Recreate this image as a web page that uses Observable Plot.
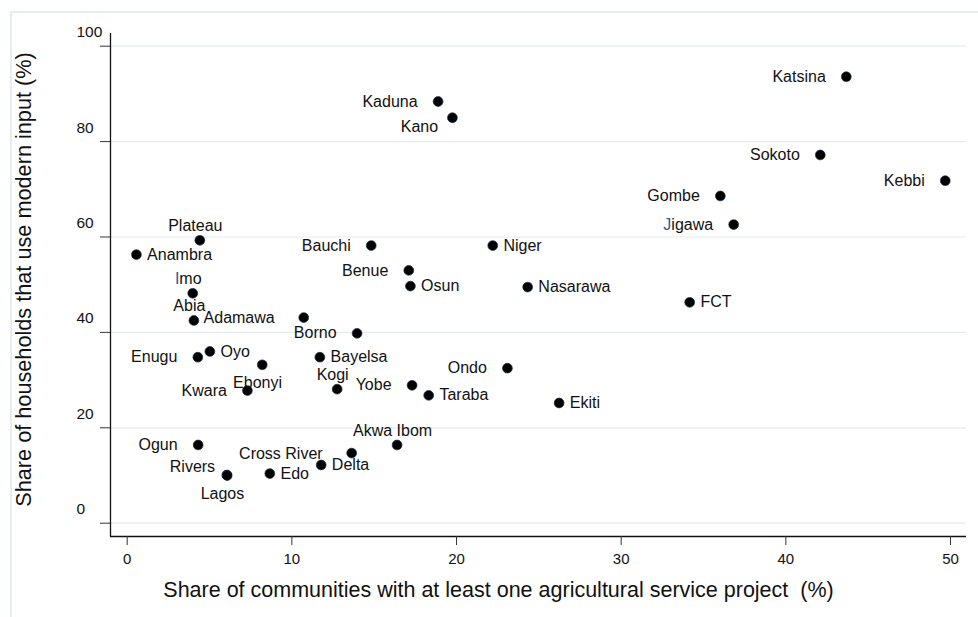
<!DOCTYPE html>
<html>
<head>
<meta charset="utf-8">
<script src="https://cdn.jsdelivr.net/npm/d3@7"></script>
<script src="https://cdn.jsdelivr.net/npm/@observablehq/plot@0.6"></script>
<style>
  html, body { margin: 0; padding: 0; background: #fff; }
  #wrap { position: relative; width: 978px; height: 617px; overflow: hidden; }
  #border { position: absolute; left: 10px; top: 11px; width: 990px; height: 640px;
            border-left: 2px solid #e4edf1; border-top: 2px solid #e4edf1; pointer-events: none; }
</style>
</head>
<body>
<div id="wrap"><div id="border"></div></div>
<script>
// ---- data ----
const states = ["Katsina","Kaduna","Kano","Sokoto","Kebbi","Gombe","Jigawa","Plateau","Anambra","Bauchi",
  "Niger","Benue","Osun","Nasarawa","FCT","Imo","Abia","Adamawa","Borno","Enugu",
  "Oyo","Ebonyi","Bayelsa","Kwara","Kogi","Yobe","Taraba","Ondo","Ekiti","Akwa Ibom",
  "Ogun","Cross River","Delta","Rivers","Lagos","Edo"];
// Share of communities with at least one agricultural service project (%)
const serviceShare = [43.67,18.88,19.75,42.09,49.68,36.02,36.83,4.41,0.56,14.82,
  22.20,17.10,17.20,24.32,34.16,3.98,4.05,10.72,13.96,4.29,
  5.02,8.20,11.70,7.30,12.75,17.30,18.31,23.09,26.23,16.39,
  4.31,13.63,11.78,6.05,6.07,8.66];
// Share of households that use modern input (%)
const modernInput = [93.6,88.4,85.0,77.2,71.8,68.6,62.6,59.3,56.3,58.2,
  58.2,53.0,49.7,49.5,46.3,48.2,42.5,43.1,39.8,34.8,
  36.0,33.2,34.8,27.8,28.1,28.9,26.8,32.5,25.2,16.4,
  16.4,14.7,12.2,10.1,10.0,10.4];
const xTicks = [0, 10, 20, 30, 40, 50];
const yTicks = [0, 20, 40, 60, 80, 100];
const xTitle = "Share of communities with at least one agricultural service project  (%)";
const yTitle = "Share of households that use modern input (%)";

// label placement (clock-style position of each marker label)
const labelPos = {
  "Katsina":"left","Kaduna":"left","Kano":"lowerLeft","Sokoto":"left","Kebbi":"left","Gombe":"left",
  "Jigawa":"left","Plateau":"above","Anambra":"right","Bauchi":"left","Niger":"right","Benue":"left",
  "Osun":"right","Nasarawa":"right","FCT":"right","Imo":"above","Abia":"above","Adamawa":"farLeft",
  "Borno":"left","Enugu":"left","Oyo":"right","Ebonyi":"below","Bayelsa":"right","Kwara":"left",
  "Kogi":"above","Yobe":"left","Taraba":"right","Ondo":"left","Ekiti":"right","Akwa Ibom":"above",
  "Ogun":"left","Cross River":"farLeft","Delta":"right","Rivers":"upperLeft","Lagos":"below","Edo":"right"
};
const blueInitial = ["Jigawa", "Imo"];

const data = states.map((s, i) => ({state: s, x: serviceShare[i], y: modernInput[i], pos: labelPos[s]}));

const xDomain = [-1.014, 50.97];
const yDomain = [-2.79, 102.66];

const placements = {
  right:     {textAnchor: "start", dx: 10.7, dy: 0},
  left:      {textAnchor: "end", dx: -20.5, dy: 0},
  farLeft:   {textAnchor: "end", dx: -29, dy: 0.6},
  above:     {textAnchor: "middle", dx: -4.5, dy: -14.3},
  below:     {textAnchor: "middle", dx: -4.7, dy: 18.3},
  lowerLeft: {textAnchor: "end", dx: -14.3, dy: 9.4},
  upperLeft: {textAnchor: "end", dx: -11.7, dy: -8.3}
};

const labelMarks = Object.entries(placements).map(([key, p]) =>
  Plot.text(data.filter(d => d.pos === key), {
    x: "x", y: "y", text: "state", fontSize: 16, fill: "#111", ...p
  })
);

const chart = Plot.plot({
  width: 978,
  height: 617,
  marginLeft: 110,
  marginRight: 12,
  marginTop: 33,
  marginBottom: 81,
  x: {domain: xDomain, axis: null},
  y: {domain: yDomain, axis: null},
  style: {fontFamily: '"Liberation Sans", Arial, sans-serif', background: "transparent", color: "#111"},
  marks: [
    Plot.gridY(yTicks, {stroke: "#e4ecef", strokeOpacity: 1, strokeWidth: 1.2}),
    Plot.ruleX([xDomain[0]], {stroke: "#111", strokeWidth: 1.3}),
    Plot.ruleY([yDomain[0]], {stroke: "#111", strokeWidth: 1.3}),
    Plot.axisX(xTicks, {tickSize: 9, tickPadding: 8, fontSize: 15, label: null, stroke: "#333", fill: "#111"}),
    Plot.axisY(yTicks, {tickSize: 10, tickFormat: () => "", label: null, stroke: "#333"}),
    Plot.text(yTicks, {y: d => d, text: d => String(d), frameAnchor: "left", textAnchor: "start",
                       dx: -34, dy: -14, fontSize: 15.5, fill: "#111"}),
    Plot.dot(data, {x: "x", y: "y", r: 4.9, fill: "#000", stroke: "#14304d", strokeWidth: 0.7}),
    ...labelMarks,
    Plot.text([yTitle], {frameAnchor: "left", textAnchor: "middle", lineAnchor: "middle",
                         rotate: -90, dx: -86, dy: -5.5, fontSize: 21.7, fill: "#111"}),
    Plot.text([xTitle], {frameAnchor: "bottom", textAnchor: "middle", lineAnchor: "middle",
                         dx: -40, dy: 54, fontSize: 21.5, fill: "#111"})
  ]
});

// colour the initial letter of a few labels as in the original
d3.select(chart).selectAll("text").each(function() {
  const t = this.textContent;
  if (blueInitial.includes(t) && this.children.length === 0) {
    this.textContent = "";
    const a = document.createElementNS("http://www.w3.org/2000/svg", "tspan");
    a.setAttribute("fill", "#2b5a8f");
    a.textContent = t[0];
    const b = document.createElementNS("http://www.w3.org/2000/svg", "tspan");
    b.textContent = t.slice(1);
    this.appendChild(a);
    this.appendChild(b);
  }
});

const wrap = document.getElementById("wrap");
wrap.insertBefore(chart, wrap.firstChild);
chart.style.position = "absolute";
chart.style.left = "0";
chart.style.top = "0";
</script>
</body>
</html>
